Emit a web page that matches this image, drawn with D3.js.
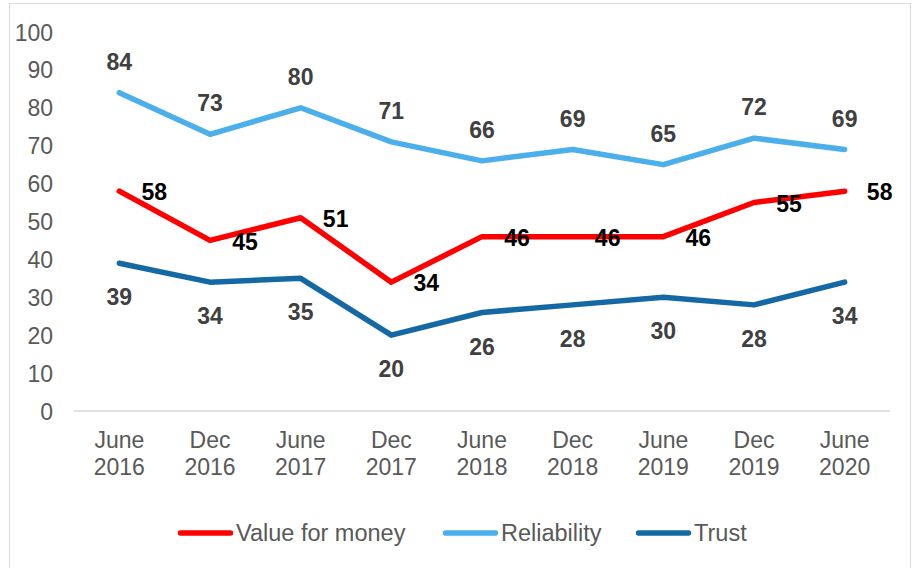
<!DOCTYPE html>
<html>
<head>
<meta charset="utf-8">
<script src="https://cdn.jsdelivr.net/npm/d3@7"></script>
<style>
  html, body { margin: 0; padding: 0; background: #fff; }
  svg { display: block; font-family: "Liberation Sans", Arial, sans-serif; }
</style>
</head>
<body>
<svg id="chart" width="917" height="568"></svg>
<script>
// Survey periods and their two-line labels
const periods = ["June 2016", "Dec 2016", "June 2017", "Dec 2017", "June 2018",
                 "Dec 2018", "June 2019", "Dec 2019", "June 2020"];

const valueForMoney = [58, 45, 51, 34, 46, 46, 46, 55, 58];
const reliability   = [84, 73, 80, 71, 66, 69, 65, 72, 69];
const trust         = [39, 34, 35, 20, 26, 28, 30, 28, 34];

const yTicks = [0, 10, 20, 30, 40, 50, 60, 70, 80, 90, 100];

const seriesNames = ["Value for money", "Reliability", "Trust"];

const series = [
  { name: seriesNames[0], values: valueForMoney, color: "#FF0000", labelColor: "#000000", pos: "right" },
  { name: seriesNames[1], values: reliability,   color: "#4AAFEB", labelColor: "#404040", pos: "above" },
  { name: seriesNames[2], values: trust,         color: "#1469A5", labelColor: "#404040", pos: "below" }
];

const FONT = "23px";

const svg = d3.select("#chart");

// outer frame
svg.append("rect")
  .attr("x", 9.5).attr("y", 3.5)
  .attr("width", 901).attr("height", 570)
  .attr("fill", "#fff").attr("stroke", "#D9D9D9").attr("stroke-width", 1);

const plot = { left: 74, right: 890, top: 32, bottom: 411 };

const x = d3.scalePoint()
  .domain(periods)
  .range([plot.left, plot.right])
  .padding(0.5);

const y = d3.scaleLinear()
  .domain([0, 100])
  .range([plot.bottom, plot.top]);

// y-axis labels (no axis line)
const yAxis = d3.axisLeft(y).tickValues(yTicks).tickSize(0).tickPadding(0);
const gy = svg.append("g")
  .attr("transform", `translate(53,0)`)
  .call(yAxis);
gy.select(".domain").remove();
gy.selectAll("text")
  .attr("fill", "#595959")
  .style("font-size", FONT)
  .attr("dy", "0.35em");

// x baseline
const xAxis = d3.axisBottom(x).tickSize(0).tickFormat("");
const gx = svg.append("g")
  .attr("transform", `translate(0,${plot.bottom})`)
  .call(xAxis);
gx.select(".domain")
  .attr("stroke", "#D9D9D9")
  .attr("stroke-width", 1.5)
  .attr("d", `M${plot.left},0H${plot.right}`);

// two-line category labels
const catLabels = svg.append("g");
periods.forEach(p => {
  const parts = p.split(" ");
  const t = catLabels.append("text")
    .attr("x", x(p))
    .attr("y", 448)
    .attr("text-anchor", "middle")
    .attr("fill", "#595959")
    .style("font-size", FONT);
  t.append("tspan").attr("x", x(p)).attr("dy", 0).text(parts[0]);
  t.append("tspan").attr("x", x(p)).attr("dy", 27).text(parts[1]);
});

// series lines
const line = d3.line()
  .x((d, i) => x(periods[i]))
  .y(d => y(d));

series.forEach(s => {
  svg.append("path")
    .datum(s.values)
    .attr("fill", "none")
    .attr("stroke", s.color)
    .attr("stroke-width", 5.5)
    .attr("stroke-linejoin", "round")
    .attr("stroke-linecap", "round")
    .attr("d", line);
});

// data labels
series.forEach(s => {
  svg.append("g").selectAll("text")
    .data(s.values)
    .join("text")
    .attr("x", (d, i) => x(periods[i]) + (s.pos === "right" ? 35 : 0))
    .attr("y", d => y(d) + (s.pos === "above" ? -31 : s.pos === "below" ? 34 : 1))
    .attr("dy", "0.35em")
    .attr("text-anchor", "middle")
    .attr("fill", s.labelColor)
    .style("font-size", FONT)
    .style("font-weight", "bold")
    .text(d => d);
});

// legend
const legendItems = [
  { s: series[0], x0: 178 },
  { s: series[1], x0: 443 },
  { s: series[2], x0: 636 }
];
const legend = svg.append("g");
legendItems.forEach(it => {
  legend.append("line")
    .attr("x1", it.x0 + 2.5).attr("x2", it.x0 + 52.5)
    .attr("y1", 533).attr("y2", 533)
    .attr("stroke", it.s.color)
    .attr("stroke-width", 5.5)
    .attr("stroke-linecap", "round");
  legend.append("text")
    .attr("x", it.x0 + 58)
    .attr("y", 533)
    .attr("dy", "0.35em")
    .attr("fill", "#595959")
    .style("font-size", "23.5px")
    .text(it.s.name);
});
</script>
</body>
</html>
